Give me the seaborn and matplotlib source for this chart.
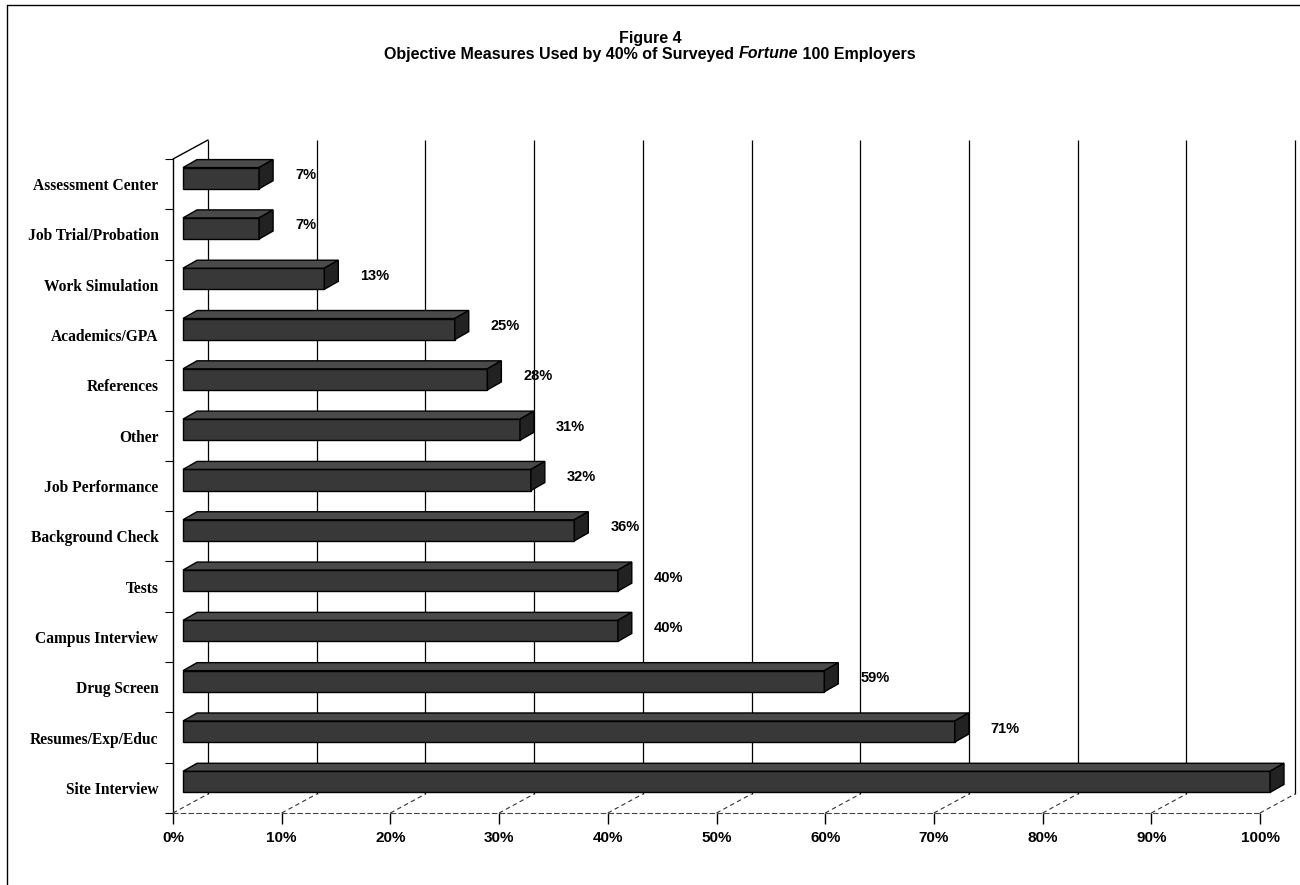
"""
Figure 4 - objective measures used by Fortune 100 employers
3D 느낌의 가로 막대그래프 (seaborn barplot + 윗면/옆면 polygon)
"""
import numpy as np
import pandas as pd
import seaborn as sns
import matplotlib.pyplot as plt
from matplotlib.transforms import ScaledTranslation, IdentityTransform
from matplotlib.patches import Polygon
from matplotlib.lines import Line2D

measures = ["Assessment Center", "Job Trial/Probation", "Work Simulation",
            "Academics/GPA", "References", "Other", "Job Performance",
            "Background Check", "Tests", "Campus Interview", "Drug Screen",
            "Resumes/Exp/Educ", "Site Interview"]
percent = [7, 7, 13, 25, 28, 31, 32, 36, 40, 40, 59, 71, 100]
x_ticks = list(range(0, 101, 10))
x_labels = [f"{t}%" for t in x_ticks]

df = pd.DataFrame({"measure": measures, "percent": percent})

sns.set_theme(style="white")
plt.rcParams["font.family"] = ["Liberation Sans", "DejaVu Sans"]
plt.rcParams["text.color"] = "black"
plt.rcParams["xtick.labelcolor"] = "black"
plt.rcParams["ytick.labelcolor"] = "black"

W, H = 1300, 885
fig = plt.figure(figsize=(13, 8.85), dpi=100)
# front plane of the box: 0% at x=173px, 100% at x=1260px, rows between y=159 and y=813
ax = fig.add_axes([173 / W, (H - 813) / H, (1260 - 173) / W, (813 - 159) / H])


def px(dx, dy):
    # shift in pixels (dpi 100)
    return ScaledTranslation(dx / 100, dy / 100, fig.dpi_scale_trans)


depth = (35, 19)      # back wall offset
bar_shift = (10, 6)   # bars sit a little inside the box
bar_depth = (14, 8)

sns.barplot(data=df, x="percent", y="measure", orient="h", width=0.42,
            color="#383838", saturation=1, edgecolor="black", linewidth=1.0,
            ax=ax, zorder=3)
ax.set_xlim(0, 100)
ax.set_ylim(12.5, -0.5)
ax.set(xlabel="", ylabel="")

# back wall grid lines
ax.vlines(x_ticks, -0.5, 12.5, colors="black", linewidth=0.9,
          transform=ax.transData + px(*depth), zorder=1, clip_on=False)

# bars -> 3D boxes
for bar in ax.patches:
    bar.set_transform(ax.transData + px(*bar_shift))
    bar.set_clip_on(False)
    x0, y0 = bar.get_x(), bar.get_y()
    w, h = bar.get_width(), bar.get_height()
    (lx, ty), (rx, by) = ax.transData.transform([(x0, y0), (x0 + w, y0 + h)])
    lx, rx = lx + bar_shift[0], rx + bar_shift[0]
    ty, by = ty + bar_shift[1], by + bar_shift[1]
    dx, dy = bar_depth
    top = Polygon([(lx, ty), (rx, ty), (rx + dx, ty + dy), (lx + dx, ty + dy)],
                  closed=True, facecolor="#4a4a4a", edgecolor="black", lw=1.0,
                  transform=IdentityTransform(), zorder=4)
    side = Polygon([(rx, ty), (rx + dx, ty + dy), (rx + dx, by + dy), (rx, by)],
                   closed=True, facecolor="#222222", edgecolor="black", lw=1.0,
                   transform=IdentityTransform(), zorder=4)
    fig.add_artist(top)
    fig.add_artist(side)

# left wall top edge + floor diagonals
x_l, y_t = ax.transData.transform((0, -0.5))
fig.add_artist(Line2D([x_l, x_l + depth[0]], [y_t, y_t + depth[1]], color="black",
                      lw=1.0, transform=IdentityTransform()))
for t in x_ticks:
    fx, fy = ax.transData.transform((t, 12.5))
    fig.add_artist(Line2D([fx, fx + depth[0]], [fy, fy + depth[1]], color="#333333",
                          lw=0.8, ls=(0, (4, 3)), transform=IdentityTransform()))

# value labels (the 100% bar runs off the chart, no label in the original)
for i, v in enumerate(percent):
    if v < 100:
        ax.annotate(f"{v}%", xy=(v, i), xytext=(bar_shift[0] + bar_depth[0] + 22, bar_shift[1] + 3),
                    textcoords="offset pixels", ha="left", va="center",
                    fontsize=10.5, fontweight="bold", color="black")

# axes styling
for s in ["top", "right"]:
    ax.spines[s].set_visible(False)
ax.spines["left"].set_color("black")
ax.spines["left"].set_linewidth(1.0)
ax.spines["bottom"].set_color("#444444")
ax.spines["bottom"].set_linewidth(0.8)
ax.spines["bottom"].set_linestyle((0, (4, 3)))

ax.set_xticks(x_ticks, x_labels, fontsize=11, fontweight="bold")
ax.tick_params(axis="x", length=8, width=1, direction="out", color="black",
               pad=5, bottom=True)
ax.set_yticks(range(len(measures)), measures, fontsize=11.2, fontweight="bold",
              family=["Liberation Serif", "DejaVu Serif"])
ax.set_yticks(np.arange(-0.5, len(measures), 1), minor=True)
ax.tick_params(axis="y", which="major", length=0, pad=10.5)
ax.tick_params(axis="y", which="minor", length=6, width=0.8, direction="out",
               color="black", left=True)
ax.patch.set_alpha(0)

# title
fig.text(0.5, 1 - 38 / H, "Figure 4", ha="center", va="center",
         fontsize=11.5, fontweight="bold")
parts = [("Objective Measures Used by 40% of Surveyed ", "normal"),
         ("Fortune", "italic"), (" 100 Employers", "normal")]
texts = [fig.text(0, 1 - 54 / H, s, style=st, fontweight="bold", fontsize=11.5,
                  va="center", ha="left") for s, st in parts]
r = fig.canvas.get_renderer()
widths = [t.get_window_extent(r).width for t in texts]
xpos = (W - sum(widths)) / 2
for t, w in zip(texts, widths):
    t.set_x(xpos / W)
    xpos += w

# scanned page frame (left + top)
fig.add_artist(Line2D([7 / W, 7 / W], [0, 1 - 5 / H], color="black", lw=1.0))
fig.add_artist(Line2D([7 / W, 1], [1 - 5 / H, 1 - 5 / H], color="black", lw=1.0))

fig.savefig("out.png", dpi=100)
